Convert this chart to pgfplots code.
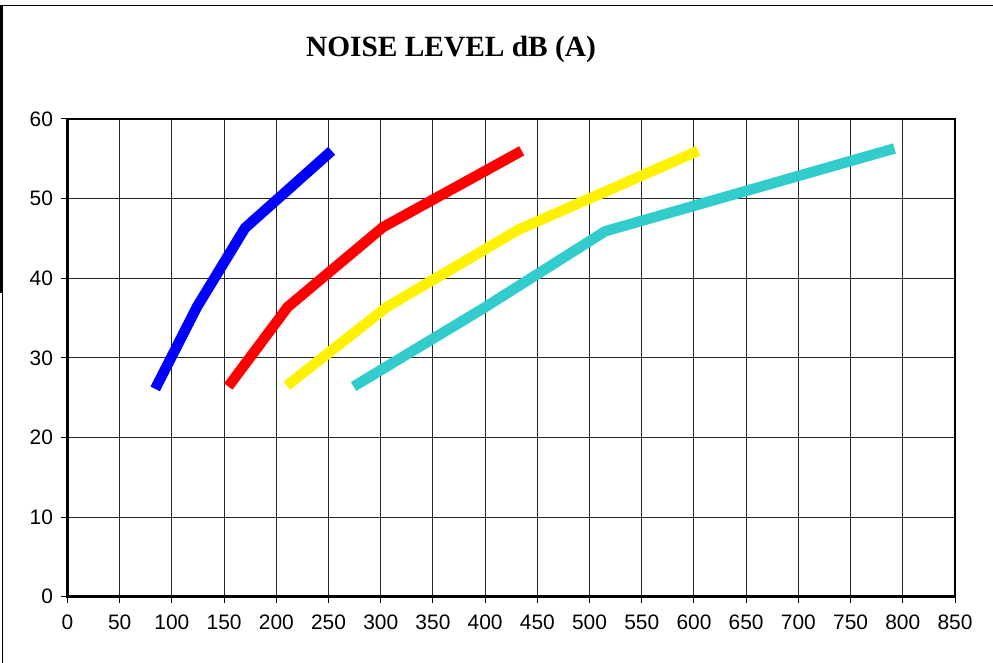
\documentclass[border=0pt]{standalone}
\usepackage{fontspec}
\setmainfont{Liberation Sans}
\newfontfamily\titlefont{Liberation Serif}
\usepackage{pgfplots}
\pgfplotsset{compat=1.18}
\definecolor{seacyan}{RGB}{51,204,204}

\begin{document}
\begin{tikzpicture}[x=1bp,y=1bp]
\useasboundingbox (0,0) rectangle (993,663);
% outer chart frame (partly cropped)
\draw[line width=1.2bp] (0,657.5) -- (993,657.5);
\draw[line width=2bp] (1.5,658) -- (1.5,370);
\draw[line width=1bp] (2.5,370) -- (2.5,0);
\node[anchor=base, font=\titlefont\bfseries\fontsize{29.5}{34}\selectfont] at (451,606) {NOISE LEVEL dB (A)};
\begin{axis}[
    at={(67.5bp,66.3bp)}, anchor=south west,
    scale only axis,
    width=887.5bp, height=477.7bp,
    xmin=0, xmax=850, ymin=0, ymax=60,
    xtick={0,50,...,850}, ytick={0,10,...,60},
    xtick pos=left, ytick pos=left,
    grid=major,
    grid style={black!85, line width=1bp},
    axis line style={line width=2.6bp},
    tick align=outside,
    major tick length=6bp,
    tick style={black, line width=1bp},
    ticklabel style={font=\fontsize{21}{24}\selectfont},
    xticklabel style={yshift=-9bp},
    yticklabel style={xshift=-5bp},
    /pgf/number format/assume math mode=true,
    every axis plot/.append style={line width=10.5bp, no markers},
]
\addplot[blue] coordinates {(84,26.1) (124,36.4) (170,46.3) (253,56)};
\addplot[red] coordinates {(154,26.4) (211,36.4) (302,46.4) (435,56)};
\addplot[yellow] coordinates {(210,26.5) (306,36.4) (432,46.1) (604,56)};
\addplot[seacyan] coordinates {(274,26.4) (398,36.2) (515,45.9) (792,56.3)};
\end{axis}
\end{tikzpicture}
\end{document}
